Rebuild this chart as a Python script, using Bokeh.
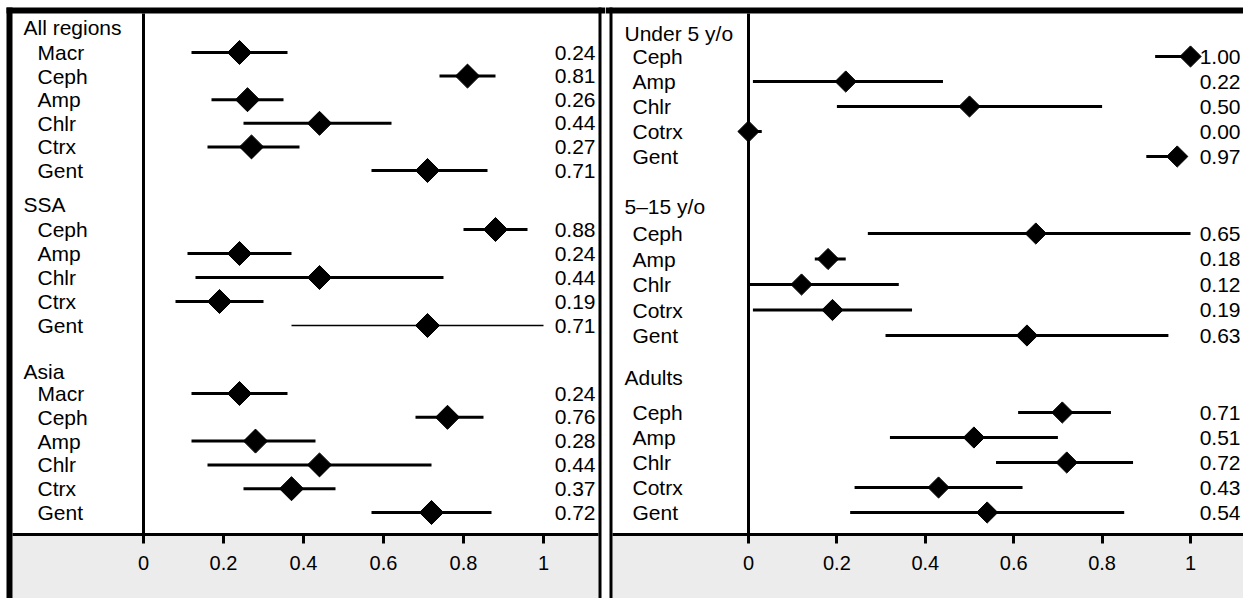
import math
from bokeh.plotting import figure
from bokeh.layouts import row
from bokeh.models import Range1d, LinearAxis, FixedTicker
from bokeh.core.properties import value
from bokeh.embed import file_html
from bokeh.resources import INLINE

# ---------------- data ----------------
left_groups = ["All regions", "SSA", "Asia"]

all_regions_drugs = ["Macr", "Ceph", "Amp", "Chlr", "Ctrx", "Gent"]
all_regions_est = [0.24, 0.81, 0.26, 0.44, 0.27, 0.71]
all_regions_lo = [0.12, 0.74, 0.17, 0.25, 0.16, 0.57]
all_regions_hi = [0.36, 0.88, 0.35, 0.62, 0.39, 0.86]

ssa_drugs = ["Ceph", "Amp", "Chlr", "Ctrx", "Gent"]
ssa_est = [0.88, 0.24, 0.44, 0.19, 0.71]
ssa_lo = [0.80, 0.11, 0.13, 0.08, 0.37]
ssa_hi = [0.96, 0.37, 0.75, 0.30, 1.00]

asia_drugs = ["Macr", "Ceph", "Amp", "Chlr", "Ctrx", "Gent"]
asia_est = [0.24, 0.76, 0.28, 0.44, 0.37, 0.72]
asia_lo = [0.12, 0.68, 0.12, 0.16, 0.25, 0.57]
asia_hi = [0.36, 0.85, 0.43, 0.72, 0.48, 0.87]

right_groups = ["Under 5 y/o", "5\u201315 y/o", "Adults"]

under5_drugs = ["Ceph", "Amp", "Chlr", "Cotrx", "Gent"]
under5_est = [1.00, 0.22, 0.50, 0.00, 0.97]
under5_lo = [0.92, 0.01, 0.20, 0.00, 0.90]
under5_hi = [1.00, 0.44, 0.80, 0.03, 0.99]

age5_15_drugs = ["Ceph", "Amp", "Chlr", "Cotrx", "Gent"]
age5_15_est = [0.65, 0.18, 0.12, 0.19, 0.63]
age5_15_lo = [0.27, 0.15, 0.00, 0.01, 0.31]
age5_15_hi = [1.00, 0.22, 0.34, 0.37, 0.95]

adults_drugs = ["Ceph", "Amp", "Chlr", "Cotrx", "Gent"]
adults_est = [0.71, 0.51, 0.72, 0.43, 0.54]
adults_lo = [0.61, 0.32, 0.56, 0.24, 0.23]
adults_hi = [0.82, 0.70, 0.87, 0.62, 0.85]

tick_values = [0, 0.2, 0.4, 0.6, 0.8, 1]
tick_labels = ["0", "0.2", "0.4", "0.6", "0.8", "1"]

left_data = [
    (all_regions_drugs, all_regions_est, all_regions_lo, all_regions_hi),
    (ssa_drugs, ssa_est, ssa_lo, ssa_hi),
    (asia_drugs, asia_est, asia_lo, asia_hi),
]
right_data = [
    (under5_drugs, under5_est, under5_lo, under5_hi),
    (age5_15_drugs, age5_15_est, age5_15_lo, age5_15_hi),
    (adults_drugs, adults_est, adults_lo, adults_hi),
]

# ---------------- layout / style ----------------
H = 598
ZERO_PX = 143
AXIS_Y = 533.5
GRAY_TOP = 535
TOP_Y0, TOP_Y1 = 7, 13
FONT = value("Liberation Sans")
GRAY = "#ececec"
THIN = {("SSA", "Gent")}

# (header y, first item y, row pitch) per group
left_layout = [(27, 52, 23.6), (204, 229, 24.0), (371, 393, 23.8)]
right_layout = [(33, 56, 25.0), (206, 233, 25.5), (377, 412, 25.0)]


def build_panel(width, scale, groups, data, layout, header_px, item_px, value_px,
                gray_left, gray_right, borders, marker_size):
    def px(v):
        return (v - ZERO_PX) / scale

    p = figure(width=width, height=H,
               x_range=Range1d(px(0), px(width)), y_range=Range1d(H, 0),
               output_backend="svg", toolbar_location=None,
               x_axis_location=None, y_axis_location=None,
               min_border=0, outline_line_color=None,
               background_fill_color="white", border_fill_color="white")
    for g in p.grid:
        g.visible = False

    # gray axis strip
    p.quad(left=px(gray_left), right=px(gray_right), top=GRAY_TOP, bottom=H,
           fill_color=GRAY, line_color=None)

    # frame borders (black bars)
    for (x0, x1, y0, y1) in borders:
        p.quad(left=px(x0), right=px(x1), top=y0, bottom=y1,
               fill_color="black", line_color=None)

    # zero reference line
    p.segment(x0=[0], y0=[TOP_Y1], x1=[0], y1=[AXIS_Y], line_color="black", line_width=3)

    for gname, (drugs, est, lo, hi), (hy, fy, pitch) in zip(groups, data, layout):
        p.text(x=[px(header_px)], y=[hy], text=[gname], text_font=FONT,
               text_font_size="21px", text_baseline="middle", text_align="left",
               text_color="black")
        ys = [fy + i * pitch for i in range(len(drugs))]
        p.text(x=[px(item_px)] * len(drugs), y=ys, text=drugs, text_font=FONT,
               text_font_size="21px", text_baseline="middle", text_align="left",
               text_color="black")
        p.text(x=[px(value_px)] * len(drugs), y=ys, text=[f"{v:.2f}" for v in est],
               text_font=FONT, text_font_size="21px", text_baseline="middle",
               text_align="right", text_color="black")
        for d, l, h, y in zip(drugs, lo, hi, ys):
            lw = 1.7 if (gname, d) in THIN else 3
            p.segment(x0=[l], y0=[y], x1=[h], y1=[y], line_color="black", line_width=lw)
        p.scatter(x=est, y=ys, marker="square", angle=math.pi / 4, size=marker_size,
                  fill_color="black", line_color="black", line_width=1)

    ax = LinearAxis(fixed_location=AXIS_Y,
                    ticker=FixedTicker(ticks=tick_values),
                    major_label_overrides={t: l for t, l in zip(tick_values, tick_labels)},
                    bounds=(px(gray_left), px(gray_right)))
    ax.axis_line_width = 3
    ax.axis_line_color = "black"
    ax.major_tick_line_width = 3
    ax.major_tick_line_color = "black"
    ax.major_tick_in = 0
    ax.major_tick_out = 9
    ax.minor_tick_line_color = None
    ax.major_label_text_font = "Liberation Sans"
    ax.major_label_text_font_size = "20px"
    ax.major_label_text_color = "black"
    ax.major_label_standoff = 13
    p.add_layout(ax, "below")
    return p


W_L, W_R = 605, 638
left = build_panel(
    W_L, 400, left_groups, left_data, left_layout,
    header_px=23, item_px=37, value_px=595,
    gray_left=12, gray_right=598,
    borders=[(6, W_L, TOP_Y0, TOP_Y1), (6, 12, TOP_Y0, H), (598, 601, TOP_Y0, H)],
    marker_size=17,
)
right = build_panel(
    W_R, 442, right_groups, right_data, right_layout,
    header_px=19, item_px=27, value_px=635,
    gray_left=7, gray_right=W_R,
    borders=[(0, W_R, TOP_Y0, TOP_Y1), (4, 7, TOP_Y0, H)],
    marker_size=15,
)

layout = row(left, right, spacing=0)
open("out.html", "w").write(file_html(layout, INLINE))
